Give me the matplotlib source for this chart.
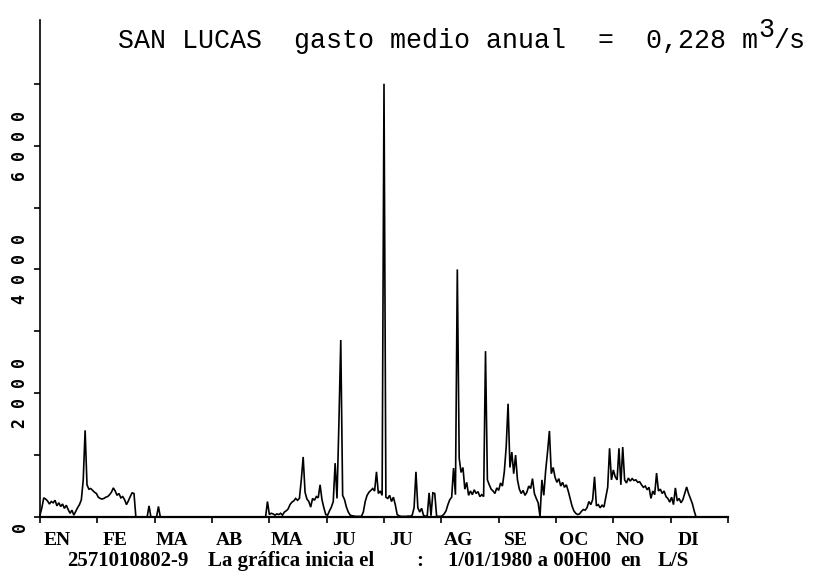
import numpy as np
import matplotlib
matplotlib.use("Agg")
import matplotlib.pyplot as plt
from matplotlib.transforms import blended_transform_factory, ScaledTranslation

# Daily mean flow (L/s), San Lucas station, year 1980
jan = [30, 150, 310, 290, 260, 210, 250, 230, 270, 180, 230, 170, 210, 140, 190, 120,
       60, 110, 30, 90, 150, 200, 280, 600, 1400, 520, 450, 460, 430, 400, 380]
feb = [320, 300, 290, 300, 320, 330, 360, 400, 470, 420, 350, 380, 310, 330, 280, 200,
       260, 330, 390, 380, 0, 0, 0, 0, 0, 0, 0, 180, 0]
mar = [0, 0, 0, 170, 0, 0, 0, 0, 0, 0, 0, 0, 0, 0, 0, 0,
       0, 0, 0, 0, 0, 0, 0, 0, 0, 0, 0, 0, 0, 0, 0]
apr = [0, 0, 0, 0, 0, 0, 0, 0, 0, 0, 0, 0, 0, 0, 0,
       0, 0, 0, 0, 0, 0, 0, 0, 0, 0, 0, 0, 0, 0, 0]
may = [250, 40, 60, 50, 30, 50, 40, 60, 30, 80, 100, 130, 200, 240, 260, 300,
       270, 300, 600, 970, 400, 290, 250, 160, 300, 270, 330, 310, 520, 280, 150]
jun = [40, 30, 100, 160, 250, 870, 300, 1500, 2860, 350, 280, 160, 80, 30, 20,
       15, 10, 10, 10, 10, 80, 250, 350, 400, 430, 460, 420, 730, 380, 420]
jul = [350, 7000, 320, 300, 350, 250, 320, 200, 40, 20, 10, 10, 10, 10, 15, 10,
       30, 150, 730, 150, 80, 140, 30, 10, 20, 390, 20, 390, 380, 10, 10]
aug = [10, 20, 50, 100, 200, 280, 320, 790, 360, 4000, 950, 720, 800, 450, 560, 350,
       420, 360, 440, 380, 410, 330, 360, 330, 2680, 600, 520, 450, 420, 380, 470]
sep = [430, 550, 500, 730, 1130, 1830, 800, 1050, 700, 1000, 600, 450, 380, 430, 350,
       400, 500, 460, 620, 380, 300, 230, 10, 600, 350, 750, 1050, 1390, 700, 800]
oct_ = [640, 560, 620, 500, 560, 480, 520, 420, 300, 180, 100, 60, 40, 50, 90, 120,
        110, 150, 250, 200, 280, 650, 180, 200, 150, 190, 160, 320, 480, 1110, 600]
nov = [760, 650, 600, 1110, 520, 1130, 600, 550, 630, 580, 620, 590, 600, 560, 570,
       520, 480, 500, 440, 480, 300, 420, 360, 710, 420, 450, 380, 420, 330, 300]
dec = [240, 320, 200, 470, 260, 300, 230, 280, 380, 485, 380, 300, 220, 100, 0, 0,
       0, 0, 0, 0, 0, 0, 0, 0, 0, 0, 0, 0, 0, 0, 0]

month_names = ["EN", "FE", "MA", "AB", "MA", "JU", "JU", "AG", "SE", "OC", "NO", "DI"]
y_label_values = [0, 2000, 4000, 6000]
footer_parts = ["2571010802-9", "La gráfica inicia el", ":", "1/01/1980 a 00H00", "en", "L/S"]

flow = np.array(jan + feb + mar + apr + may + jun + jul + aug + sep + oct_ + nov + dec, dtype=float)
days = np.arange(len(flow))

W, H = 816, 580
fig = plt.figure(figsize=(W / 100, H / 100), dpi=100)
fig.patch.set_facecolor("white")
ax = fig.add_axes([40 / W, 1 - 517 / H, 688 / W, 497 / H])

ax.plot(days, flow, color="black", lw=1.2, clip_on=False, solid_joinstyle="miter")
ax.set_xlim(0, 366)
ax.set_ylim(0, 8030)

for side in ("top", "right"):
    ax.spines[side].set_visible(False)
ax.spines["left"].set_linewidth(1.2)
ax.spines["bottom"].set_linewidth(1.6)

month_edges = np.linspace(0, 366, 13)
ax.set_xticks(month_edges)
ax.set_xticklabels([])
ax.set_yticks(np.arange(0, 8000, 1000))
ax.set_yticklabels([])
ax.tick_params(axis="both", direction="out", length=4.3, width=1.2, color="black")

serif = "Liberation Serif"

# month names below the axis
trans_x = blended_transform_factory(ax.transData, fig.transFigure)
for edge, name in zip(month_edges[:-1], month_names):
    ax.text(edge + 9.2, 1 - 545 / H, name, transform=trans_x, ha="center", va="baseline",
            fontsize=14, fontweight="bold", family=serif)

# rotated, letter-spaced y labels
trans_y = ax.get_yaxis_transform()
for v in y_label_values:
    t = trans_y
    if v == 0:
        t = trans_y + ScaledTranslation(0, -0.10, fig.dpi_scale_trans)
    ax.text(-20 / 688, v, " ".join(str(v)), transform=t, rotation=90, ha="center",
            va="center", fontsize=12, fontweight="bold", family="DejaVu Sans Mono")

# title
mono = "Liberation Mono"
fig.text(118 / W, 1 - 48 / H, "SAN LUCAS  gasto medio anual  =  0,228 m", family=mono,
         fontsize=19.2, ha="left", va="baseline")
fig.text(758 / W, 1 - 37 / H, "3", family=mono, fontsize=19.2, ha="left", va="baseline")
fig.text(774 / W, 1 - 48 / H, "/s", family=mono, fontsize=19.2, ha="left", va="baseline")

# footer line
footer_x = [127.5, 291, 420, 529, 631, 673]
for px, part in zip(footer_x, footer_parts):
    fig.text(px / W, 1 - 566 / H, part, ha="center", va="baseline", fontsize=15,
             fontweight="bold", family=serif)

fig.savefig("out.png", dpi=100, facecolor="white")
